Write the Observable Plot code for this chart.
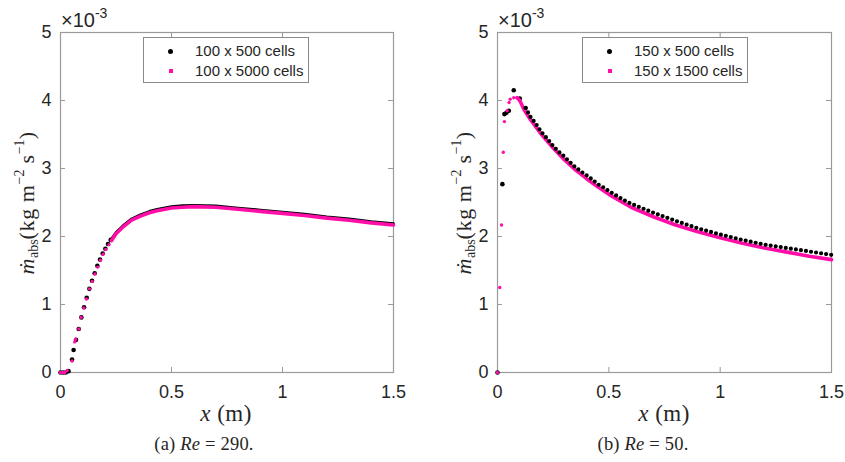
<!DOCTYPE html>
<html><head><meta charset="utf-8">
<script src="https://cdn.jsdelivr.net/npm/d3@7"></script>
<script src="https://cdn.jsdelivr.net/npm/@observablehq/plot@0.6"></script>
<style>
body{margin:0;background:#fff;width:845px;height:462px;position:relative;overflow:hidden;font-family:"Liberation Sans",Arial,sans-serif;color:#262626}
.panel{position:absolute;top:0}
.abs{position:absolute;white-space:nowrap}
.serif{font-family:"Liberation Serif","Times New Roman",serif}
.ylab{transform:translate(-50%,-50%) rotate(-90deg);font-size:22px;letter-spacing:0.6px}
.ylab sub{font-size:14px;vertical-align:-4px;letter-spacing:0}
.ylab sup{font-size:14px;vertical-align:10px;letter-spacing:0}
.xlab{transform:translate(-50%,-50%);font-size:23px;letter-spacing:0.5px}
.cap{transform:translate(-50%,-50%);font-size:18.5px;letter-spacing:0.2px}
.exp{font-size:20px}
.exp sup{font-size:14px;vertical-align:9px}
.legend{position:absolute;top:37px;width:164px;height:44px;border:1px solid #8a8a8a;background:#fff;font-size:15px}
.row{position:absolute;left:0;height:20px;line-height:20px}
.mk{position:absolute;left:24px}
.lt{position:absolute;left:51px}
</style></head><body>
<div id="left" class="panel" style="left:0"></div>
<div id="right" class="panel" style="left:420px"></div>
<script>
// ---- data (values in units of 1e-3 kg m^-2 s^-1) ----
const xTicks = [0, 0.5, 1, 1.5];
const yTicks = [0, 1, 2, 3, 4, 5];

// (a) Re = 290
const aBlackX = [0, 0.012, 0.024, 0.036, 0.052, 0.059, 0.07, 0.082, 0.094, 0.106, 0.118, 0.13, 0.142, 0.154, 0.166, 0.178, 0.19, 0.202, 0.214, 0.226, 0.25, 0.285, 0.32, 0.36, 0.4, 0.435, 0.5, 0.55, 0.6, 0.7, 0.8, 0.9, 1.0, 1.1, 1.2, 1.3, 1.4, 1.5];
const aBlackY = [0, 0, 0, 0.02, 0.19, 0.33, 0.48, 0.64, 0.81, 0.96, 1.1, 1.23, 1.35, 1.46, 1.57, 1.66, 1.75, 1.82, 1.89, 1.95, 2.06, 2.17, 2.26, 2.32, 2.37, 2.40, 2.44, 2.455, 2.46, 2.45, 2.42, 2.39, 2.36, 2.33, 2.29, 2.26, 2.22, 2.19];
const aPinkX = [0, 0.01, 0.02, 0.03, 0.052, 0.064, 0.068, 0.083, 0.093, 0.105, 0.117, 0.13, 0.143, 0.155, 0.168, 0.18, 0.192, 0.204, 0.218, 0.23, 0.25, 0.285, 0.32, 0.36, 0.4, 0.435, 0.5, 0.55, 0.6, 0.7, 0.8, 0.9, 1.0, 1.1, 1.2, 1.3, 1.4, 1.5];
const aPinkY = [0, 0, 0, 0.03, 0.17, 0.45, 0.49, 0.64, 0.81, 0.95, 1.08, 1.23, 1.34, 1.45, 1.55, 1.65, 1.74, 1.81, 1.88, 1.94, 2.04, 2.15, 2.24, 2.30, 2.35, 2.38, 2.42, 2.43, 2.44, 2.43, 2.40, 2.37, 2.34, 2.31, 2.27, 2.24, 2.20, 2.17];

// (b) Re = 50
const bBlackX = [0, 0.022, 0.031, 0.04, 0.051, 0.073, 0.10, 0.126, 0.148, 0.174, 0.196, 0.223, 0.245, 0.27, 0.295, 0.32, 0.346, 0.373, 0.40, 0.425, 0.45, 0.477, 0.504, 0.53, 0.555, 0.582, 0.609, 0.7, 0.8, 0.9, 1.0, 1.1, 1.2, 1.3, 1.4, 1.5];
const bBlackY = [0, 2.77, 3.80, 3.82, 3.85, 4.15, 4.03, 3.89, 3.76, 3.65, 3.54, 3.44, 3.35, 3.26, 3.19, 3.11, 3.03, 2.96, 2.90, 2.84, 2.77, 2.72, 2.66, 2.61, 2.56, 2.51, 2.47, 2.35, 2.23, 2.12, 2.03, 1.95, 1.88, 1.83, 1.78, 1.73];
const bPinkX = [0, 0.01, 0.018, 0.026, 0.031, 0.043, 0.052, 0.057, 0.073, 0.088, 0.10, 0.12, 0.15, 0.2, 0.25, 0.3, 0.35, 0.4, 0.45, 0.5, 0.6, 0.7, 0.8, 0.9, 1.0, 1.1, 1.2, 1.3, 1.4, 1.5];
const bPinkY = [0, 1.25, 2.17, 3.24, 3.69, 3.85, 3.97, 4.02, 4.04, 4.04, 4.0, 3.86, 3.71, 3.49, 3.30, 3.13, 2.98, 2.85, 2.73, 2.62, 2.43, 2.29, 2.17, 2.07, 1.98, 1.90, 1.83, 1.77, 1.71, 1.66];

const seriesNames = {a: ["100 x 500 cells", "100 x 5000 cells"], b: ["150 x 500 cells", "150 x 1500 cells"]};
const captions = {a: ["(a) ", "Re", " = 290."], b: ["(b) ", "Re", " = 50."]};

const PINK = "#ff0fa8";
const AX = "#9a9a9a";

function rows(xs, ys) { return xs.map((x, i) => ({x, y: ys[i]})); }

function makePanel({black, pink, width, marginLeft, marginRight, blackDots, blackLine, pinkDots, pinkLine, dotted}) {
  const tx = 0.0225, ty = 0.074;
  const marks = [
    Plot.frame({stroke: AX, strokeWidth: 1.2}),
    Plot.ruleX(xTicks.slice(1, -1), {x: d => d, y1: 0, y2: ty, stroke: AX}),
    Plot.ruleX(xTicks.slice(1, -1), {x: d => d, y1: 5 - ty, y2: 5, stroke: AX}),
    Plot.ruleY(yTicks.slice(1, -1), {y: d => d, x1: 0, x2: tx, stroke: AX}),
    Plot.ruleY(yTicks.slice(1, -1), {y: d => d, x1: 1.5 - tx, x2: 1.5, stroke: AX}),
    Plot.axisX({ticks: xTicks, tickSize: 0, tickPadding: 13, label: null, tickFormat: d => String(d)}),
    Plot.axisY({ticks: yTicks, tickSize: 0, tickPadding: 9, label: null, tickFormat: d => String(d)})
  ];
  const blackDotMark = Plot.dot(black.filter(blackDots), {x: "x", y: "y", r: 2.3, fill: "#000", stroke: "none"});
  const blackLineMark = Plot.line(black.filter(blackLine), {x: "x", y: "y", stroke: "#000", strokeWidth: dotted ? 4.2 : 2.6,
      strokeLinecap: "round", strokeDasharray: dotted ? "0,5.1" : null});
  const pinkMarks = [
    Plot.dot(pink.filter(pinkDots), {x: "x", y: "y", r: 1.7, fill: PINK, stroke: "none"}),
    Plot.line(pink.filter(pinkLine), {x: "x", y: "y", stroke: PINK, strokeWidth: 3.6})
  ];
  if (dotted) marks.push(blackDotMark, ...pinkMarks, blackLineMark);
  else marks.push(blackDotMark, blackLineMark, ...pinkMarks);
  return Plot.plot({
    width, height: 430, marginLeft, marginRight, marginTop: 32, marginBottom: 58,
    x: {domain: [0, 1.5]},
    y: {domain: [0, 5]},
    style: {fontSize: "18px", fontFamily: "'Liberation Sans', Arial, sans-serif", color: "#262626", background: "transparent", overflow: "visible"},
    marks
  });
}

document.getElementById("left").append(makePanel({
  black: rows(aBlackX, aBlackY), pink: rows(aPinkX, aPinkY),
  width: 420, marginLeft: 60, marginRight: 27,
  blackDots: d => d.x <= 0.226, blackLine: d => d.x >= 0.226,
  pinkDots: d => d.x <= 0.23, pinkLine: d => d.x >= 0.23, dotted: false
}));
document.getElementById("right").append(makePanel({
  black: rows(bBlackX, bBlackY), pink: rows(bPinkX, bPinkY),
  width: 425, marginLeft: 77, marginRight: 14,
  blackDots: d => d.x <= 0.126, blackLine: d => d.x >= 0.126,
  pinkDots: d => d.x <= 0.1, pinkLine: d => d.x >= 0.088, dotted: true
}));

function addHTML(html) { document.body.insertAdjacentHTML("beforeend", html); }
const panels = [
  {key: "a", ax: 60, cx: 226, ylx: 27, capx: 204, legx: 143},
  {key: "b", ax: 497, cx: 664, ylx: 464, capx: 643, legx: 582}
];
for (const p of panels) {
  addHTML(`<div class="abs exp" style="left:${p.ax + 1}px;top:5px">&times;10<sup>-3</sup></div>`);
  addHTML(`<div class="abs serif ylab" style="left:${p.ylx}px;top:203px"><i>ṁ</i><sub>abs</sub>(kg m<sup>−2</sup> s<sup>−1</sup>)</div>`);
  addHTML(`<div class="abs serif xlab" style="left:${p.cx}px;top:414px"><i>x</i> (m)</div>`);
  const c = captions[p.key];
  addHTML(`<div class="abs serif cap" style="left:${p.capx}px;top:444px">${c[0]}<i>${c[1]}</i>${c[2]}</div>`);
  const n = seriesNames[p.key];
  addHTML(`<div class="legend" style="left:${p.legx}px">
    <div class="row" style="top:3px;width:164px"><span class="mk" style="top:8px;width:5px;height:5px;border-radius:50%;background:#000"></span><span class="lt">${n[0]}</span></div>
    <div class="row" style="top:23px;width:164px"><span class="mk" style="top:8px;left:25px;width:3.5px;height:3.5px;background:${PINK}"></span><span class="lt">${n[1]}</span></div>
  </div>`);
}
</script>
</body></html>
